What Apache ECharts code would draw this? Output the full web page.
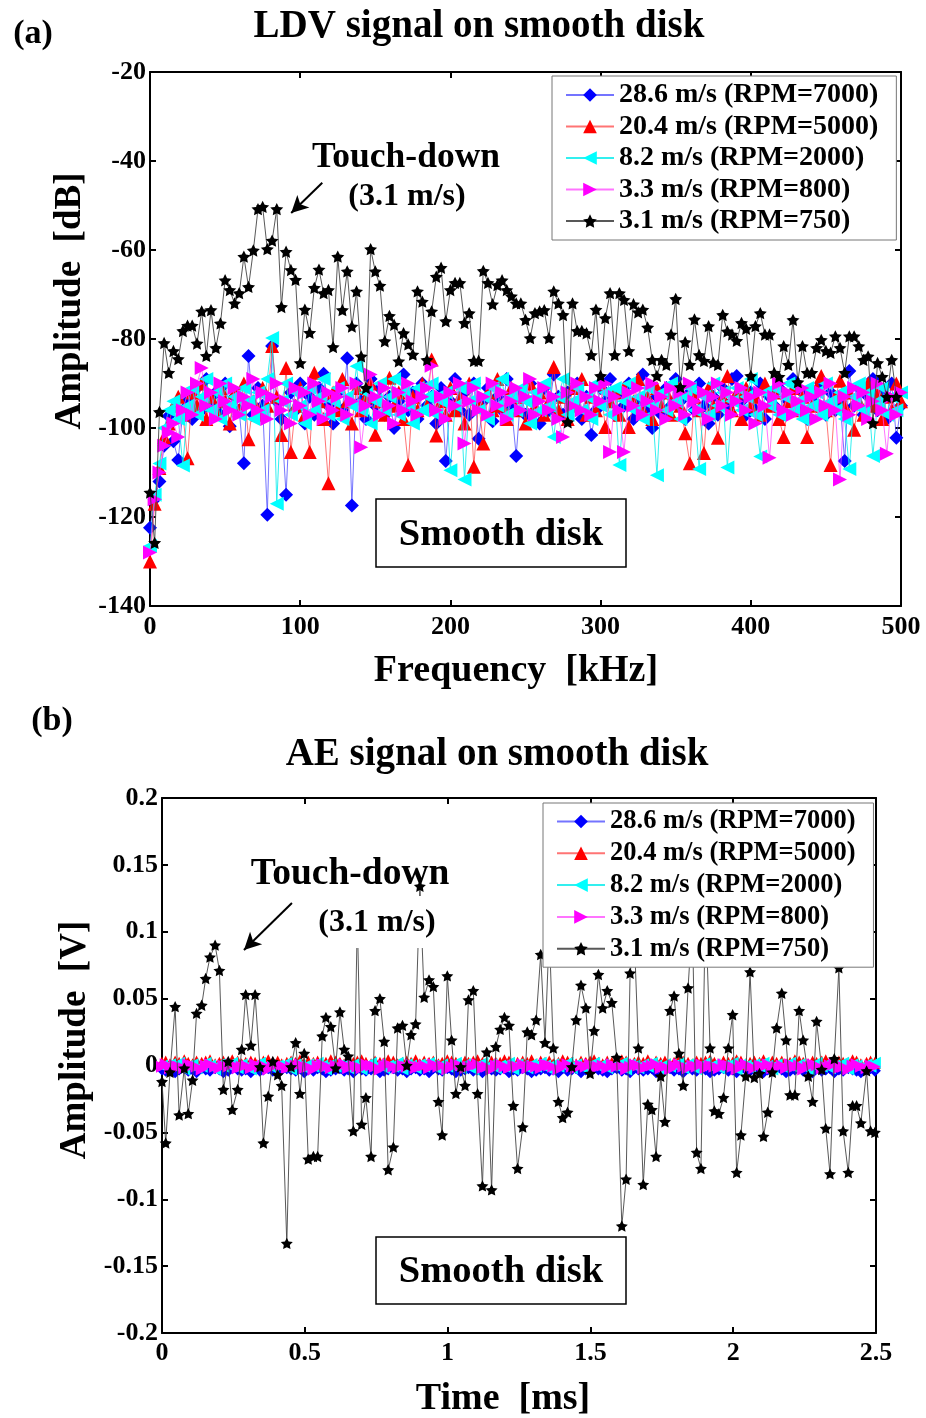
<!DOCTYPE html>
<html>
<head>
<meta charset="utf-8">
<script src="https://cdn.jsdelivr.net/npm/echarts@6.0.0/dist/echarts.min.js"></script>
<style>
  html, body { margin: 0; padding: 0; background: #fff; }
  #chart { width: 926px; height: 1418px; }
</style>
</head>
<body>
<div id="chart"></div>
<script>
// ---------- legend entries (shared by both panels) ----------
const seriesNames = [
  '28.6 m/s (RPM=7000)',
  '20.4 m/s (RPM=5000)',
  '8.2 m/s (RPM=2000)',
  '3.3 m/s (RPM=800)',
  '3.1 m/s (RPM=750)'
];

// ---------- (a) LDV spectrum: frequency bins [kHz] ----------
const freqKHz = [
  0,3.1,6.3,9.4,12.5,15.6,18.8,21.9,25,28.1,31.3,34.4,37.5,40.6,43.8,46.9,
  50,53.1,56.3,59.4,62.5,65.6,68.8,71.9,75,78.1,81.3,84.4,87.5,90.6,93.8,96.9,
  100,103.1,106.3,109.4,112.5,115.6,118.8,121.9,125,128.1,131.3,134.4,137.5,140.6,143.8,146.9,
  150,153.1,156.3,159.4,162.5,165.6,168.8,171.9,175,178.1,181.3,184.4,187.5,190.6,193.8,196.9,
  200,203.1,206.3,209.4,212.5,215.6,218.8,221.9,225,228.1,231.3,234.4,237.5,240.6,243.8,246.9,
  250,253.1,256.3,259.4,262.5,265.6,268.8,271.9,275,278.1,281.3,284.4,287.5,290.6,293.8,296.9,
  300,303.1,306.3,309.4,312.5,315.6,318.8,321.9,325,328.1,331.3,334.4,337.5,340.6,343.8,346.9,
  350,353.1,356.3,359.4,362.5,365.6,368.8,371.9,375,378.1,381.3,384.4,387.5,390.6,393.8,396.9,
  400,403.1,406.3,409.4,412.5,415.6,418.8,421.9,425,428.1,431.3,434.4,437.5,440.6,443.8,446.9,
  450,453.1,456.3,459.4,462.5,465.6,468.8,471.9,475,478.1,481.3,484.4,487.5,490.6,493.8,496.9,
  500
];

// LDV amplitude [dB], one value per bin
const ldv286 = [
  -122.4,-116,-112,-104,-97.3,-103,-107.2,-96,-94,-98,-91,-96,-89,-95,-92,-97,-90,-99.6,-93,-96,
  -107.9,-83.8,-97,-91,-95,-119.5,-81.6,-94,-98,-115,-92,-96,-90,-99,-93,-97,-91,-87.8,-95,-99,
  -92,-96,-84.3,-117.4,-90,-94,-98,-89,-95,-91,-97,-93,-100,-94,-88,-96,-92,-98,-90,-95,
  -93,-99,-91,-107.4,-94,-89,-96,-92,-97,-90,-102.4,-94,-91,-98.5,-93,-96,-89,-95,-106.3,-92,
  -97,-90,-94,-99,-91,-96,-88,-93,-97,-92,-95,-90,-98,-93,-101.6,-96,-91,-94,-89,-97,
  -92,-95,-90,-98,-94,-88,-96,-100,-93,-97,-91,-95,-89,-94,-98,-92,-96,-90,-95,-99,
  -93,-97,-91,-95,-89,-88.3,-94,-97,-92,-96,-90,-98,-93,-95,-91,-97,-94,-89,-96,-92,
  -98,-93,-95,-90,-97,-92,-96,-94,-107.4,-87.2,-95,-91,-97,-93,-89,-96,-92,-98,-90,-102.2,
  -95
];
const ldv204 = [
  -130,-117,-109,-102,-99,-95,-93,-97,-106.8,-92,-95,-90,-98,-93,-96,-91,-94,-99,-92,-96,
  -90,-102.5,-94,-97,-91,-95,-81.6,-93,-101.6,-86.5,-105.4,-95,-91,-97,-105.4,-87.6,-94,-98,-112.4,-92,
  -96,-89,-94,-99,-91,-96,-93,-90,-101.5,-94,-97,-88.7,-95,-92,-98,-108.3,-93,-96,-90,-95,
  -84.6,-101.7,-94,-97,-91,-96,-93,-99,-90,-108.7,-94,-103.5,-92,-96,-89,-95,-98,-91,-96,-93,
  -99,-90,-95,-92,-97,-94,-86.3,-96,-93,-98,-91,-95,-89,-97,-93,-96,-90,-99.8,-94,-92,
  -97,-91,-99.8,-94,-89,-96,-93,-98,-91,-95,-92,-97,-90,-95,-101.2,-107.9,-93,-96,-105.6,-91,
  -95,-102.2,-93,-88.3,-96,-92,-98,-91,-95,-93,-97,-90,-95,-92,-98,-102,-94,-91,-96,-93,
  -102,-95,-91,-88.3,-96,-108.3,-93,-89.4,-95,-92,-100.4,-94,-97,-90,-95,-92,-98,-93,-96,-90,
  -94
];
const ldv82 = [
  -126.5,-115,-108,-100,-96,-94,-98,-108.4,-95,-91,-97,-93,-89,-96,-92,-98,-90,-95,-93,-97,
  -91,-94,-98,-92,-96,-89,-79.8,-117,-94,-90,-97,-92,-95,-99,-91,-96,-93,-89,-97,-94,
  -91,-98,-93,-95,-86.1,-96,-92,-99,-94,-90,-96,-93,-89,-97,-92,-95,-99,-91,-96,-93,
  -90,-97,-94,-92,-109.5,-95,-91,-111.6,-94,-90,-96,-93,-98,-91,-95,-89,-97,-93,-96,-91,
  -94,-99,-92,-96,-90,-95,-102,-93,-89,-97,-94,-91,-96,-93,-98,-90,-95,-92,-97,-91,
  -108.3,-94,-90,-96,-93,-98,-91,-95,-110.6,-92,-96,-90,-94,-98,-93,-91,-96,-109.2,-93,-97,
  -90,-95,-92,-108.9,-94,-91,-96,-93,-89,-97,-106.4,-92,-95,-91,-97,-93,-90,-96,-94,-98,
  -91,-95,-92,-97,-90,-94,-96,-92,-98,-109.2,-93,-90,-96,-92,-106.3,-94,-91,-97,-93,-96,
  -92
];
const ldv33 = [
  -128,-116,-110,-104,-101,-99,-102,-96,-92,-97,-90,-86.5,-95,-92,-98,-90,-94,-96,-91,-97,
  -93,-95,-89,-96,-92,-98,-93,-90,-96,-94,-99,-91,-95,-92,-97,-90,-94,-98,-92,-96,
  -93,-91,-97,-94,-90,-104.3,-95,-88,-93,-97,-91,-95,-99,-92,-96,-90,-94,-97,-93,-91,
  -86,-96,-93,-98,-92,-95,-90,-103.5,-94,-91,-96,-93,-97,-90,-95,-92,-98,-94,-91,-96,
  -93,-89,-97,-94,-91,-96,-93,-98,-102,-92,-95,-90,-96,-93,-97,-91,-94,-90,-105.4,-93,
  -96,-105.4,-92,-95,-91,-97,-94,-90,-96,-93,-98,-91,-95,-92,-97,-90,-94,-96,-92,-98,
  -93,-90,-95,-92,-97,-94,-91,-96,-93,-99,-92,-95,-106.7,-93,-90,-96,-92,-97,-94,-91,
  -96,-93,-98,-92,-95,-90,-96,-111.6,-93,-97,-91,-95,-92,-98,-94,-90,-96,-105.8,-93,-97,
  -92
];
const ldv31 = [
  -114.5,-125.8,-96.4,-80.9,-87.6,-82.7,-84.5,-78.2,-77,-77,-81,-73.8,-83.8,-73.5,-82,-76.5,-66.8,-69,-72,-69.7,
  -61.5,-68.3,-60.1,-50.8,-50.3,-59.8,-57.9,-50.8,-72.8,-60.4,-64.5,-66.7,-85.4,-73.4,-78.6,-68.5,-64.4,-69.7,-69,-81.8,
  -61.5,-73.5,-64.8,-77.2,-69.3,-83.9,-91,-59.8,-64.8,-68,-80.5,-74.8,-76.8,-85,-78.7,-81.2,-83.5,-69.3,-71.6,-84.7,
  -73.8,-66,-64,-76,-69,-67.4,-67.4,-76.4,-74.2,-84.9,-84.9,-64.7,-67.4,-72.2,-67.9,-66.8,-69,-70.4,-72,-72,
  -75.7,-79.8,-74.2,-73.8,-73.5,-79.8,-69.3,-72,-74.6,-98.7,-72,-78.2,-78.2,-78.7,-83.6,-73.4,-88.3,-75.3,-69.7,-83.6,
  -69.7,-71.2,-82.7,-72.2,-74,-73.4,-77.4,-84.7,-88.3,-84.7,-85.8,-79,-71,-90.8,-80.7,-85.8,-75.6,-83.6,-84.9,-77.1,
  -85.3,-85.8,-74.6,-78.3,-79,-80.4,-76.4,-77.7,-88.3,-77.1,-74.2,-79,-79,-87.6,-88.5,-81.6,-85.8,-75.7,-89.7,-81.6,
  -87.6,-87.6,-82,-80.2,-82.7,-83.1,-79.4,-82,-87.6,-79.4,-79.4,-81.6,-84.7,-83.9,-98.9,-85.4,-88.5,-93,-84.7,-93,
  null
];

// ---------- (b) AE signal: sample times [ms] ----------
const timeMs = [
  0,0.013,0.028,0.046,0.06,0.078,0.092,0.107,0.121,0.139,
  0.153,0.168,0.186,0.201,0.215,0.232,0.246,0.265,0.279,0.293,
  0.311,0.326,0.343,0.355,0.372,0.388,0.405,0.419,0.437,0.452,
  0.468,0.483,0.498,0.512,0.53,0.545,0.561,0.574,0.591,0.608,
  0.623,0.638,0.652,0.67,0.684,0.699,0.714,0.732,0.746,0.763,
  0.778,0.792,0.81,0.825,0.842,0.857,0.872,0.888,0.903,0.918,
  0.935,0.95,0.968,0.981,0.999,1.014,1.029,1.046,1.061,1.073,
  1.09,1.105,1.122,1.137,1.154,1.169,1.184,1.199,1.215,1.23,
  1.245,1.263,1.279,1.294,1.31,1.326,1.341,1.356,1.37,1.388,
  1.403,1.42,1.435,1.45,1.467,1.484,1.499,1.513,1.528,1.543,
  1.559,1.575,1.592,1.61,1.625,1.639,1.654,1.668,1.685,1.701,
  1.715,1.73,1.746,1.761,1.779,1.793,1.81,1.825,1.842,1.857,
  1.872,1.887,1.903,1.919,1.934,1.95,1.966,1.983,1.998,2.012,
  2.027,2.044,2.059,2.074,2.092,2.106,2.121,2.137,2.152,2.17,
  2.185,2.199,2.216,2.231,2.245,2.263,2.278,2.292,2.31,2.324,
  2.339,2.354,2.37,2.385,2.403,2.418,2.432,2.447,2.467,2.481,
  2.496
];

// AE amplitude for the four non-contact speeds, in millivolts
const ae286mV = [
  -3,-4,-2,-5,-3,-2,-4,-3,-5,-2, -3,-4,-2,-3,-5,-4,-2,-3,-4,-3, -5,-2,-4,-3,-2,-4,-5,-3,-2,-3,
  -4,-2,-5,-3,-4,-2,-3,-5,-4,-3, -2,-4,-3,-5,-2,-3,-4,-3,-2,-5, -4,-3,-2,-4,-3,-5,-3,-2,-4,-3,
  -5,-2,-3,-4,-2,-3,-5,-4,-3,-2, -4,-3,-5,-2,-3,-4,-3,-2,-5,-3, -4,-2,-3,-5,-4,-3,-2,-4,-3,-5,
  -2,-4,-3,-2,-5,-3,-4,-2,-3,-4, -5,-3,-2,-4,-3,-5,-2,-3,-4,-3, -2,-5,-4,-3,-2,-4,-3,-5,-2,-3,
  -4,-2,-3,-5,-4,-3,-2,-4,-3,-5, -2,-3,-4,-3,-2,-5,-3,-4,-2,-3, -5,-4,-3,-2,-4,-3,-5,-2,-4,-3,
  -2,-5,-3,-4,-2,-3,-4,-5,-3,-2, -4
];
const ae204mV = [
  2,3,1,3,2,4,2,1,3,2, 3,4,1,2,3,2,4,3,1,2, 3,2,1,3,4,2,3,1,2,3,
  2,4,1,3,2,3,1,2,4,3, 2,1,3,2,3,4,2,1,3,2, 2,4,3,1,2,3,2,4,1,3,
  2,3,1,2,4,3,2,1,3,2, 3,4,2,1,3,2,2,4,3,1, 2,3,2,4,1,3,2,3,1,2,
  4,3,2,1,3,2,3,4,2,1, 3,2,2,4,3,1,2,3,2,4, 1,3,2,3,1,2,4,3,2,1,
  3,2,3,4,2,1,3,2,2,4, 3,1,2,3,2,4,1,3,2,3, 1,2,4,3,2,1,3,2,3,4,
  2,1,3,2,2,4,3,1,2,3, 2
];
const ae82mV = [
  0,-2,1,-1,2,-3,0,1,-2,-1, 2,0,-3,1,-1,0,2,-2,1,-1, -3,0,2,-1,1,-2,0,-1,2,-3,
  1,0,-2,1,-1,2,0,-3,1,-1, 0,2,-2,1,-1,-3,0,2,-1,1, -2,0,-1,2,-3,1,0,-2,1,-1,
  2,0,-3,1,-1,0,2,-2,1,-1, -3,0,2,-1,1,-2,0,-1,2,-3, 1,0,-2,1,-1,2,0,-3,1,-1,
  0,2,-2,1,-1,-3,0,2,-1,1, -2,0,-1,2,-3,1,0,-2,1,-1, 2,0,-3,1,-1,0,2,-2,1,-1,
  -3,0,2,-1,1,-2,0,-1,2,-3, 1,0,-2,1,-1,2,0,-3,1,-1, 0,2,-2,1,-1,-3,0,2,-1,1,
  -2,0,-1,2,-3,1,0,-2,1,-1, 2
];
const ae33mV = [
  -1,1,-2,0,-1,-2,1,0,-1,-3, 0,1,-1,-2,0,-1,1,-2,-1,0, -2,1,-1,0,-3,-1,1,0,-2,-1,
  0,1,-2,-1,-3,0,1,-1,-2,0, -1,1,-2,0,-1,-2,1,0,-1,-3, 0,1,-1,-2,0,-1,1,-2,-1,0,
  -2,1,-1,0,-3,-1,1,0,-2,-1, 0,1,-2,-1,-3,0,1,-1,-2,0, -1,1,-2,0,-1,-2,1,0,-1,-3,
  0,1,-1,-2,0,-1,1,-2,-1,0, -2,1,-1,0,-3,-1,1,0,-2,-1, 0,1,-2,-1,-3,0,1,-1,-2,0,
  -1,1,-2,0,-1,-2,1,0,-1,-3, 0,1,-1,-2,0,-1,1,-2,-1,0, -2,1,-1,0,-3,-1,1,0,-2,-1,
  0,1,-2,-1,-3,0,1,-1,-2,0, -1
];
// touch-down speed, in volts
const ae31V = [
  -0.012,-0.058,-0.005,0.044,-0.037,-0.002,-0.036,-0.011,0.039,0.045,
  0.065,0.081,0.09,0.071,-0.018,0.003,-0.033,-0.018,0.012,0.053,
  0.015,0.053,-0.001,-0.058,-0.023,0.003,-0.007,-0.015,-0.133,-0.001,
  0.017,-0.021,0.009,-0.07,-0.068,-0.068,0.022,0.036,0.029,-0.002,
  0.04,0.012,0.007,-0.049,0.11,-0.044,-0.024,-0.068,0.041,0.05,
  0.018,-0.078,-0.061,0.028,0.03,0,0.023,0.031,0.134,0.051,
  0.064,0.059,-0.027,-0.052,0.067,0.019,-0.021,-0.001,-0.015,0.049,
  0.056,-0.021,-0.09,0.01,-0.093,0.014,0.027,0.036,0.03,-0.03,
  -0.077,-0.046,0.025,0.023,0.034,0.083,0.017,0.1,0.013,-0.027,
  -0.039,-0.035,-0.001,0.034,0.06,0.043,-0.006,0.026,0.068,0.043,
  0.056,0.047,0.006,-0.12,-0.085,0.069,0.095,0.013,-0.089,-0.029,
  -0.033,-0.068,-0.008,-0.042,0.041,0.052,0.009,-0.015,0.058,0.11,
  -0.065,-0.077,0.12,0.013,-0.034,-0.036,-0.024,0.013,0.038,-0.08,
  -0.052,-0.008,0.07,-0.009,-0.006,-0.053,-0.035,-0.005,0.028,0.054,
  0.019,-0.022,-0.022,0.041,0.019,-0.008,-0.027,0.033,-0.003,-0.047,
  -0.081,0.005,0.073,-0.049,-0.08,-0.03,-0.03,-0.043,-0.004,-0.049,
  -0.05
];

// ---------- styling ----------
const SERIF = '"Liberation Serif","Times New Roman",serif';
const STAR = 'path://M0,-10L2.94,-4.05L9.51,-3.09L4.76,1.55L5.88,8.09L0,5L-5.88,8.09L-4.76,1.55L-9.51,-3.09L-2.94,-4.05Z';
const looks = [
  { color: '#0000ff', line: 'rgba(70,70,255,0.75)',  symbol: 'diamond',  rotate: 0 },
  { color: '#ff0000', line: 'rgba(255,70,70,0.75)',  symbol: 'triangle', rotate: 0 },
  { color: '#00ffff', line: 'rgba(0,235,235,0.8)',   symbol: 'triangle', rotate: 90 },
  { color: '#ff00ff', line: 'rgba(255,70,255,0.75)', symbol: 'triangle', rotate: -90 },
  { color: '#000000', line: 'rgba(70,70,70,0.9)',    symbol: STAR,       rotate: 0 }
];

function pairs(xs, ys, scale) {
  return xs.map((x, i) => [x, ys[i] == null ? null : ys[i] * (scale || 1)]);
}

function makeSeries(k, axisIdx, data, size) {
  const lk = looks[k];
  return {
    type: 'line', name: seriesNames[k],
    xAxisIndex: axisIdx, yAxisIndex: axisIdx,
    data: data,
    symbol: lk.symbol, symbolSize: size, symbolRotate: lk.rotate, symbolKeepAspect: true,
    showSymbol: true, showAllSymbol: true,
    itemStyle: { color: lk.color, borderWidth: 0 },
    lineStyle: { color: lk.line, width: 1 },
    emphasis: { disabled: true },
    animation: false,
    z: 2 + k * 0.1
  };
}

const boldText = (size) => ({ fontFamily: SERIF, fontWeight: 'bold', fontSize: size, color: '#000' });

function frameAxis(gridIndex, min, max, interval, position, showLabel, labelSize, margin) {
  return {
    gridIndex, type: 'value', min, max, interval, position,
    axisLine: { show: true, onZero: false, lineStyle: { color: '#000', width: 2 } },
    axisTick: { show: true, inside: true, length: 6, lineStyle: { color: '#000', width: 2 } },
    axisLabel: Object.assign({ show: showLabel, margin: margin }, boldText(labelSize)),
    splitLine: { show: false }
  };
}

function label(text, x, y, size, extra) {
  return Object.assign({
    type: 'text', x, y, z: 120,
    style: {
      text, font: 'bold ' + size + 'px ' + SERIF, fill: '#000',
      align: 'center', verticalAlign: 'middle',
      textAlign: 'center', textVerticalAlign: 'middle'
    }
  }, extra || {});
}

function legendAt(left, top, fontSize, gap) {
  return {
    orient: 'vertical', left, top,
    padding: [5, 18, 5, 13], itemGap: gap, itemWidth: 48, itemHeight: 17,
    backgroundColor: '#fff', borderColor: '#777', borderWidth: 1,
    selectedMode: false, data: seriesNames,
    textStyle: Object.assign({ lineHeight: fontSize }, boldText(fontSize))
  };
}

const ldvSets = [ldv286, ldv204, ldv82, ldv33, ldv31];
const aeSets = [ae286mV, ae204mV, ae82mV, ae33mV];

const series = [];
ldvSets.forEach((vals, k) => series.push(makeSeries(k, 0, pairs(freqKHz, vals), k === 4 ? 13 : 14)));
aeSets.forEach((vals, k) => series.push(makeSeries(k, 2, pairs(timeMs, vals, 0.001), 12)));
series.push(makeSeries(4, 2, pairs(timeMs, ae31V), 12));

// arrows pointing at the touch-down peaks
const arrow = (from, to) => ({
  silent: true, animation: false, symbol: ['none', 'arrow'], symbolSize: [13, 17],
  lineStyle: { color: '#000', width: 2, type: 'solid' }, itemStyle: { color: '#000' },
  label: { show: false }, emphasis: { disabled: true },
  data: [[{ coord: from }, { coord: to }]]
});
series[4].markLine = arrow([114.7, -44.9], [94, -51.7]);
series[series.length - 1].markLine = arrow([0.455, 0.1215], [0.287, 0.0864]);

const option = {
  backgroundColor: '#fff',
  animation: false,
  grid: [
    { left: 150, top: 72, width: 751, height: 534, containLabel: false },
    { left: 162, top: 798, width: 714, height: 535, containLabel: false }
  ],
  xAxis: [
    frameAxis(0, 0, 500, 100, 'bottom', true, 26, 8),
    frameAxis(0, 0, 500, 100, 'top', false, 26, 8),
    frameAxis(1, 0, 2.5, 0.5, 'bottom', true, 26, 7),
    frameAxis(1, 0, 2.5, 0.5, 'top', false, 26, 7)
  ],
  yAxis: [
    frameAxis(0, -140, -20, 20, 'left', true, 26, 4),
    frameAxis(0, -140, -20, 20, 'right', false, 26, 4),
    frameAxis(1, -0.2, 0.2, 0.05, 'left', true, 26, 4),
    frameAxis(1, -0.2, 0.2, 0.05, 'right', false, 26, 4)
  ],
  legend: [
    legendAt(552, 76, 28, 3.5),
    legendAt(543, 803, 26.5, 4.8)
  ],
  series: series,
  graphic: [
    // panel (a)
    label('(a)', 33, 34, 34),
    label('LDV signal on smooth disk', 479, 27, 39),
    label('Amplitude  [dB]', 70, 301, 37, { rotation: Math.PI / 2 }),
    label('Frequency  [kHz]', 516, 671, 38),
    label('Touch-down', 406, 158, 35.5),
    label('(3.1 m/s)', 407, 197, 32),
    { type: 'rect', z: 110, shape: { x: 376, y: 499, width: 250, height: 68 },
      style: { fill: '#fff', stroke: '#000', lineWidth: 1.5 } },
    label('Smooth disk', 501, 535, 38.5),
    // panel (b)
    label('(b)', 52, 721, 34),
    label('AE signal on smooth disk', 497, 755, 39),
    label('Amplitude  [V]', 75, 1040, 37, { rotation: Math.PI / 2 }),
    label('Time  [ms]', 503, 1399, 38),
    label('Touch-down', 350, 874, 37.5),
    { type: 'rect', z: 110, shape: { x: 312, y: 896, width: 132, height: 52 },
      style: { fill: '#fff', lineWidth: 0 } },
    label('(3.1 m/s)', 377, 923, 32),
    { type: 'rect', z: 110, shape: { x: 376, y: 1237, width: 250, height: 67 },
      style: { fill: '#fff', stroke: '#000', lineWidth: 1.5 } },
    label('Smooth disk', 501, 1272, 38.5)
  ]
};

const chart = echarts.init(document.getElementById('chart'), null, { renderer: 'canvas' });
chart.setOption(option);
</script>
</body>
</html>
